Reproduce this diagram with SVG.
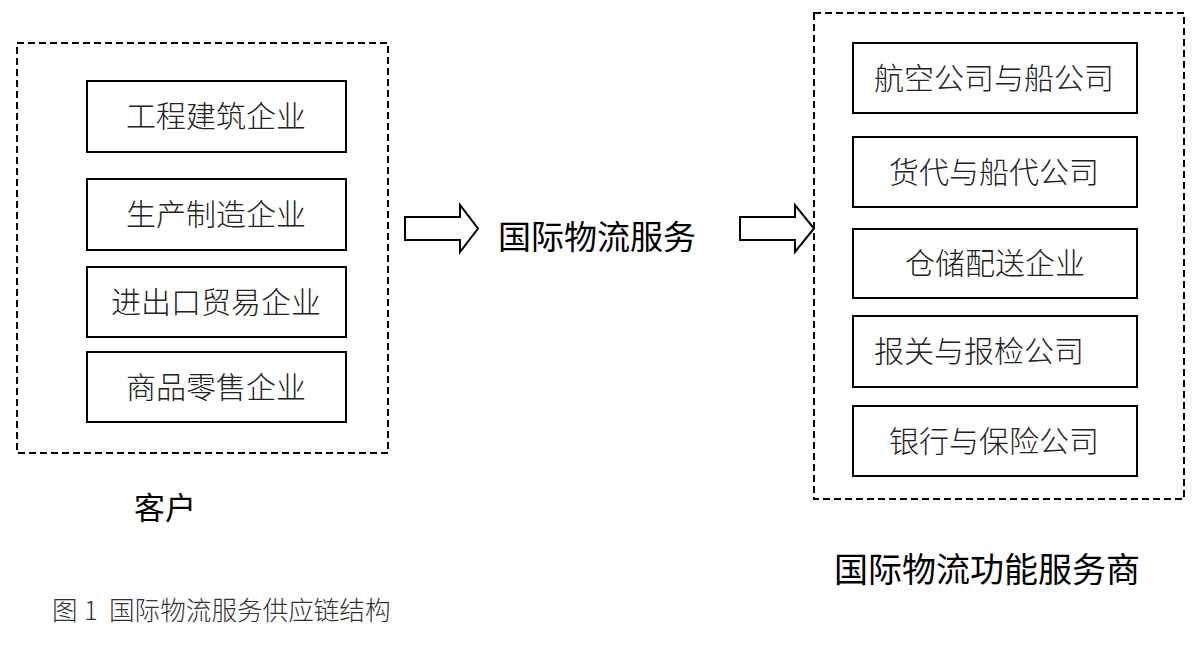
<svg xmlns="http://www.w3.org/2000/svg" width="1197" height="659" viewBox="0 0 1197 659">
<style>
.group{fill:none;stroke:#000;stroke-width:2;stroke-dasharray:7,4}
.box{fill:#fff;stroke:#000;stroke-width:2}
.lbl{font-family:"Noto Sans CJK SC","Noto Sans",sans-serif;font-size:30px;font-weight:300;fill:#222;text-anchor:middle}
.big{font-family:"Noto Sans CJK SC","Noto Sans",sans-serif;fill:#000;font-weight:400}
.cap{font-family:"Noto Sans CJK SC","Noto Sans",sans-serif;font-size:25.6px;font-weight:300;fill:#333}
.arrow{fill:#fff;stroke:#000;stroke-width:2;stroke-linejoin:miter}
</style>
<rect width="1197" height="659" fill="#fff"/>
<g id="customers">
<rect class="group" x="17" y="43" width="371" height="410"/>
<text class="big" x="165" y="519" font-size="31" text-anchor="middle">客户</text>
</g>
<g id="c1"><rect class="box" x="87" y="81" width="259" height="71"/><text class="lbl" x="216" y="127">工程建筑企业</text></g>
<g id="c2"><rect class="box" x="87" y="179" width="259" height="71"/><text class="lbl" x="216" y="225">生产制造企业</text></g>
<g id="c3"><rect class="box" x="87" y="267" width="259" height="70"/><text class="lbl" x="216" y="313">进出口贸易企业</text></g>
<g id="c4"><rect class="box" x="87" y="352" width="259" height="70"/><text class="lbl" x="216" y="398">商品零售企业</text></g>
<g id="service"><text class="big" x="597" y="249" font-size="33" text-anchor="middle">国际物流服务</text></g>
<g id="providers">
<rect class="group" x="814" y="13" width="370" height="486"/>
<text class="big" x="987" y="582" font-size="34" text-anchor="middle">国际物流功能服务商</text>
</g>
<g id="p1"><rect class="box" x="853" y="43" width="284" height="70"/><text class="lbl" x="994" y="89">航空公司与船公司</text></g>
<g id="p2"><rect class="box" x="853" y="137" width="284" height="70"/><text class="lbl" x="994" y="183">货代与船代公司</text></g>
<g id="p3"><rect class="box" x="853" y="229" width="284" height="69"/><text class="lbl" x="995" y="274">仓储配送企业</text></g>
<g id="p4"><rect class="box" x="853" y="316" width="284" height="71"/><text class="lbl" x="979" y="362">报关与报检公司</text></g>
<g id="p5"><rect class="box" x="853" y="406" width="284" height="70"/><text class="lbl" x="994" y="452">银行与保险公司</text></g>
<g id="connectors">
<polygon class="arrow" points="405,217 460,217 460,205 478,228.5 460,252 460,240 405,240"/>
<polygon class="arrow" points="740,217 795,217 795,205 814,228.5 795,252 795,240 740,240"/>
</g>
<text class="cap" y="620"><tspan x="52">图</tspan><tspan x="84">1</tspan><tspan x="109">国际物流服务供应链结构</tspan></text>
</svg>
